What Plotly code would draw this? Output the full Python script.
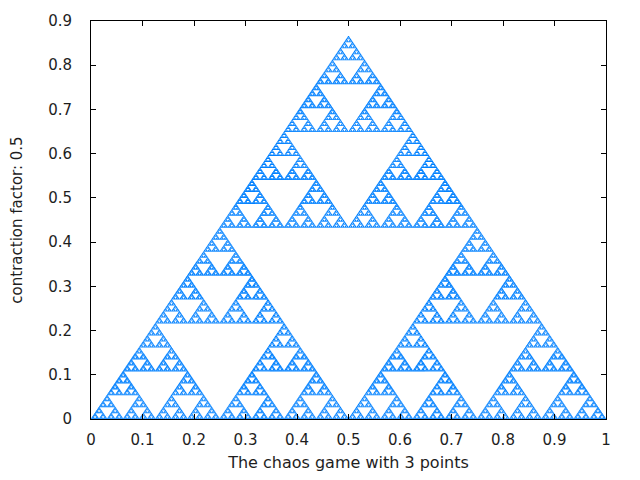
import numpy as np
import plotly.graph_objects as go

# Data: the three vertices of the chaos game and its contraction factor
vertex_x = [0.0, 1.0, 0.5]
vertex_y = [0.0, 0.0, 0.866]
contraction = 0.5
depth = 9

x_ticks = [0, 0.1, 0.2, 0.3, 0.4, 0.5, 0.6, 0.7, 0.8, 0.9, 1]
y_ticks = [0, 0.1, 0.2, 0.3, 0.4, 0.5, 0.6, 0.7, 0.8, 0.9]

# Deterministic enumeration of all chaos-game moves up to `depth`
vx = np.array(vertex_x)
vy = np.array(vertex_y)
px = np.array([vx.mean()])
py = np.array([vy.mean()])
for _ in range(depth):
    px = (px[None, :] + (vx[:, None] - px[None, :]) * contraction).ravel()
    py = (py[None, :] + (vy[:, None] - py[None, :]) * contraction).ravel()

fig = go.Figure()
fig.add_trace(go.Scatter(
    x=px, y=py, mode="markers",
    marker=dict(size=1.1, color="rgb(0,128,255)", symbol="square", line=dict(width=0)),
    hoverinfo="skip", showlegend=False,
))

font = dict(family="DejaVu Sans", size=15, color="rgb(30,30,30)")
xtitle_font = dict(family="DejaVu Sans", size=16, color="rgb(30,30,30)")
axis_common = dict(
    showgrid=False, zeroline=False, showline=True, linecolor="black", linewidth=1,
    mirror="ticks", ticks="inside", ticklen=5, tickcolor="black",
    tickfont=font, automargin=False,
)
fig.update_layout(
    width=624, height=464,
    margin=dict(l=83, r=26, t=13, b=53),
    paper_bgcolor="white", plot_bgcolor="white",
    xaxis=dict(range=[0, 1], tickvals=x_ticks, ticktext=[f"{v:g}" for v in x_ticks],
               ticklabelstandoff=7,
               title=dict(text="The chaos game with 3 points", font=xtitle_font, standoff=17),
               **axis_common),
    yaxis=dict(range=[0, 0.9], tickvals=y_ticks, ticktext=[f"{v:g}" for v in y_ticks],
               ticklabelstandoff=15,
               title=dict(text="contraction factor: 0.5", font=font, standoff=32),
               **axis_common),
)
fig.write_html("out.html")
